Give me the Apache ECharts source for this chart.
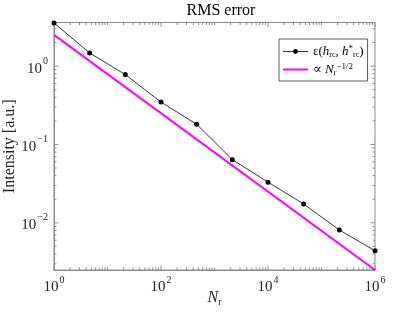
<!DOCTYPE html>
<html>
<head>
<meta charset="utf-8">
<script src="https://cdn.jsdelivr.net/npm/echarts@6/dist/echarts.min.js"></script>
<style>
  html, body { margin: 0; padding: 0; background: #fff; }
  #chart { width: 415px; height: 312px; }
</style>
</head>
<body>
<div id="chart"></div>
<script>
// samples N_r (log spaced) and measured RMS error
const nSamples = [1, 4.64, 21.5, 100, 464, 2154, 10000, 46416, 215443, 1000000];
const rmsError = [3.55, 1.47, 0.78, 0.347, 0.181, 0.064, 0.033, 0.0174, 0.0081, 0.0044];
// reference slope line  ~ N^-1/2
const refX = [1, 1000000];
const refY = [2.5, 0.0025];

const xMin = 1, xMax = 1e6;
const yMin = 0.0025, yMax = 3.6;

const serif = '"Liberation Serif", "DejaVu Serif", serif';
const axisGray = '#8c8c8c';
const txt = '#262626';

// minor / major tick marks drawn like matlab (inside, on all four sides)
const xTicks = [];
for (let e = 0; e <= 6; e++) {
  for (let m = 1; m <= 9; m++) {
    const v = m * Math.pow(10, e);
    if (v > xMax) break;
    xTicks.push([v, (m === 1 && e % 2 === 0) ? 1 : 0]);
  }
}
const yTicks = [];
for (let e = -3; e <= 0; e++) {
  for (let m = 1; m <= 9; m++) {
    const v = m * Math.pow(10, e);
    if (v < yMin || v > yMax) continue;
    yTicks.push([v, m === 1 ? 1 : 0]);
  }
}

const rich = {
  b: { fontFamily: serif, fontSize: 15, color: txt, lineHeight: 20, verticalAlign: 'bottom' },
  sup: { fontFamily: serif, fontSize: 10, color: txt, lineHeight: 20, verticalAlign: 'top', padding: [0, 0, 0, 1] }
};

function powLabel(v, skipOdd) {
  const l = Math.log10(v);
  const e = Math.round(l);
  if (Math.abs(l - e) > 1e-6) return '';
  if (skipOdd && e % 2 !== 0) return '';
  return '{b|10}{sup|' + String(e).replace('-', '\u2212') + '}';
}

const chart = echarts.init(document.getElementById('chart'));
chart.setOption({
  animation: false,
  title: {
    text: 'RMS error',
    left: 216, top: -2, textAlign: 'center',
    textStyle: { fontFamily: serif, fontSize: 16, fontWeight: 'normal', color: '#000' }
  },
  grid: {
    left: 54, right: 40, top: 22.5, bottom: 42,
    outerBoundsMode: 'none',
    containLabel: false,
    show: true, borderColor: axisGray, borderWidth: 1, backgroundColor: '#fff'
  },
  legend: {
    left: 279, top: 39,
    orient: 'vertical',
    itemWidth: 25, itemHeight: 6, itemGap: 3,
    padding: [5, 4, 4, 3],
    borderColor: '#333', borderWidth: 0.8, backgroundColor: '#fff',
    data: [
      { name: 'err', lineStyle: { width: 0.8, color: '#000' } },
      { name: 'ref', lineStyle: { width: 2, color: '#ff00ff' }, itemStyle: { opacity: 0 } }
    ],
    formatter: function (name) {
      if (name === 'err') return '{n|\u03b5(}{i|h}{s|rc}{n|, }{i|h}{u|*}{s|rc}{n|)}';
      return '{n|\u221d }{i|N}{s|r}{u|\u22121/2}';
    },
    textStyle: {
      rich: {
        n: { fontFamily: serif, fontSize: 13, color: '#000', lineHeight: 15 },
        i: { fontFamily: serif, fontSize: 13, fontStyle: 'italic', color: '#000', lineHeight: 15 },
        s: { fontFamily: serif, fontSize: 8, color: '#000', lineHeight: 15, verticalAlign: 'bottom' },
        u: { fontFamily: serif, fontSize: 9, color: '#000', lineHeight: 15, verticalAlign: 'top' }
      }
    }
  },
  xAxis: {
    type: 'log', min: xMin, max: xMax, logBase: 10,
    name: '{i|N}{s|r}', nameLocation: 'middle', nameGap: 19,
    nameMoveOverlap: false,
    nameTextStyle: {
      rich: {
        i: { fontFamily: serif, fontSize: 16, fontStyle: 'italic', color: txt, lineHeight: 18 },
        s: { fontFamily: serif, fontSize: 10, color: txt, lineHeight: 18, verticalAlign: 'bottom' }
      }
    },
    axisLine: { lineStyle: { color: axisGray, width: 1 } },
    axisTick: { show: false },
    splitLine: { show: false },
    minorTick: { show: false },
    axisLabel: {
      margin: 5,
      formatter: function (v) { return powLabel(v, true); },
      rich: rich
    }
  },
  yAxis: {
    type: 'log', min: yMin, max: yMax, logBase: 10,
    name: 'Intensity [a.u.]', nameLocation: 'middle', nameGap: 36,
    nameMoveOverlap: false,
    nameTextStyle: { fontFamily: serif, fontSize: 16, color: txt },
    axisLine: { lineStyle: { color: axisGray, width: 1 } },
    axisTick: { show: false },
    splitLine: { show: false },
    minorTick: { show: false },
    axisLabel: {
      margin: 6,
      formatter: function (v) { return powLabel(v, false); },
      rich: rich
    }
  },
  series: [
    {
      name: 'ref',
      type: 'line',
      data: refX.map((x, i) => [x, refY[i]]),
      showSymbol: false,
      symbol: 'none',
      lineStyle: { color: '#ff00ff', width: 2 },
      itemStyle: { color: '#ff00ff' },
      z: 2
    },
    {
      name: 'err',
      type: 'line',
      data: nSamples.map((x, i) => [x, rmsError[i]]),
      symbol: 'circle', symbolSize: 5,
      lineStyle: { color: '#000', width: 0.8 },
      itemStyle: { color: '#000' },
      clip: false,
      z: 3
    },
    {
      type: 'custom',
      silent: true,
      clip: false,
      data: xTicks,
      renderItem: function (params, api) {
        const v = api.value(0);
        const len = api.value(1) ? 4.5 : 2.5;
        const b = api.coord([v, yMin]);
        const t = api.coord([v, yMax]);
        const st = { stroke: axisGray, lineWidth: 1 };
        return {
          type: 'group',
          children: [
            { type: 'line', shape: { x1: b[0], y1: b[1], x2: b[0], y2: b[1] - len }, style: st },
            { type: 'line', shape: { x1: t[0], y1: t[1], x2: t[0], y2: t[1] + len }, style: st }
          ]
        };
      }
    },
    {
      type: 'custom',
      silent: true,
      clip: false,
      data: yTicks.map(d => [xMin, d[0], d[1]]),
      renderItem: function (params, api) {
        const v = api.value(1);
        const len = api.value(2) ? 4.5 : 2.5;
        const l = api.coord([xMin, v]);
        const r = api.coord([xMax, v]);
        const st = { stroke: axisGray, lineWidth: 1 };
        return {
          type: 'group',
          children: [
            { type: 'line', shape: { x1: l[0], y1: l[1], x2: l[0] + len, y2: l[1] }, style: st },
            { type: 'line', shape: { x1: r[0], y1: r[1], x2: r[0] - len, y2: r[1] }, style: st }
          ]
        };
      }
    }
  ]
});
</script>
</body>
</html>
